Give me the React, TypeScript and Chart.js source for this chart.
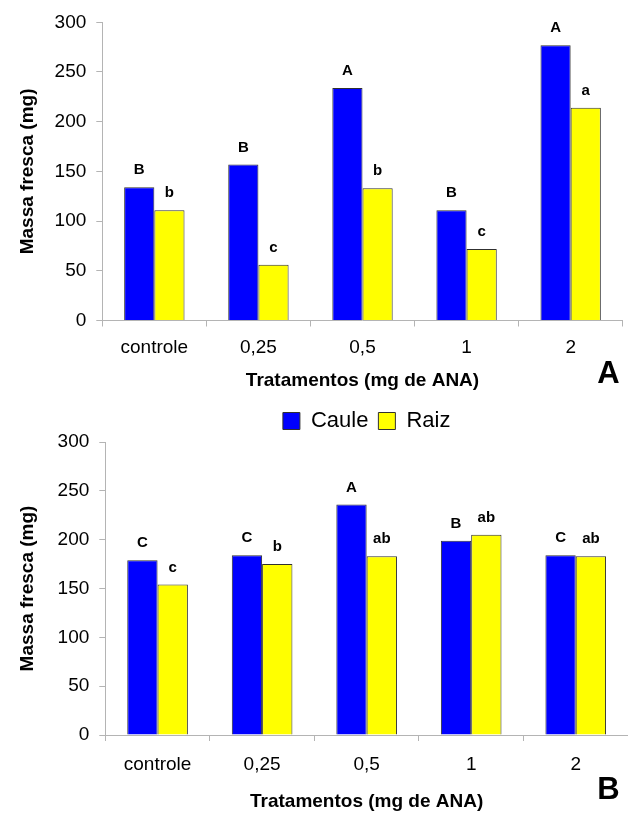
import { useEffect, useRef } from "react";
import { Chart, registerables } from "chart.js";

Chart.register(...registerables);

const FONT = "'Liberation Sans', Arial, Helvetica, sans-serif";
const AXIS = "#b4b4b4";

const categories = ["controle", "0,25", "0,5", "1", "2"];
const yTicks = [0, 50, 100, 150, 200, 250, 300];
const seriesNames = ["Caule", "Raiz"];
const xTitle = "Tratamentos (mg de ANA)";
const yTitle = "Massa fresca (mg)";

const cauleA = [134, 157, 234, 111, 277];
const raizA = [111, 56, 133, 72, 214];
const cauleLettersA = ["B", "B", "A", "B", "A"];
const raizLettersA = ["b", "c", "b", "c", "a"];

const cauleB = [179, 184, 236, 199, 184];
const raizB = [154, 175, 183, 205, 183];
const cauleLettersB = ["C", "C", "A", "B", "C"];
const raizLettersB = ["c", "b", "ab", "ab", "ab"];

const panelNames = ["A", "B"];

const letterPlugin = {
  id: "barLetters",
  afterDatasetsDraw(chart: any, _args: any, opts: any) {
    const { ctx } = chart;
    ctx.save();
    ctx.fillStyle = "#000";
    ctx.textAlign = "center";
    ctx.textBaseline = "middle";
    ctx.font = `bold 15px ${FONT}`;
    (opts.letters || []).forEach((arr: string[], di: number) => {
      const meta = chart.getDatasetMeta(di);
      meta.data.forEach((bar: any, i: number) => {
        ctx.fillText(arr[i], bar.x, bar.y - 17);
      });
    });
    if (opts.panel) {
      ctx.font = `bold 31px ${FONT}`;
      ctx.fillText(opts.panel, chart.width - 19.5, opts.panelY);
    }
    ctx.restore();
  },
};

type PanelProps = {
  top: number;
  height: number;
  caule: number[];
  raiz: number[];
  cauleLetters: string[];
  raizLetters: string[];
  panel: string;
  panelY: number;
  showLegend: boolean;
  padding: { top: number; right: number; bottom: number; left: number };
  yAxisWidth: number;
  xAxisHeight: number;
  xTickPad: number;
  xTitlePadBottom: number;
};

function Panel(p: PanelProps) {
  const ref = useRef<HTMLCanvasElement | null>(null);
  useEffect(() => {
    if (!ref.current) return;
    const chart = new Chart(ref.current, {
      type: "bar",
      data: {
        labels: categories,
        datasets: [
          {
            label: seriesNames[0],
            data: p.caule,
            backgroundColor: "#0000ff",
            borderColor: "#303030",
            borderWidth: 1,
            barPercentage: 1,
            categoryPercentage: 0.58,
          },
          {
            label: seriesNames[1],
            data: p.raiz,
            backgroundColor: "#ffff00",
            borderColor: "#303030",
            borderWidth: 1,
            barPercentage: 1,
            categoryPercentage: 0.58,
          },
        ],
      },
      options: {
        responsive: false,
        animation: false,
        devicePixelRatio: 1,
        layout: { padding: p.padding },
        plugins: {
          legend: {
            display: p.showLegend,
            position: "top",
            fullSize: false,
            labels: {
              boxWidth: 17,
              boxHeight: 17,
              padding: 10,
              color: "#000",
              font: { size: 22, family: FONT },
            },
          },
          tooltip: { enabled: false },
          barLetters: {
            letters: [p.cauleLetters, p.raizLetters],
            panel: p.panel,
            panelY: p.panelY,
          },
        } as any,
        scales: {
          x: {
            grid: {
              display: true,
              drawOnChartArea: false,
              drawTicks: true,
              tickLength: 6,
              color: AXIS,
              offset: true,
            },
            border: { display: true, color: AXIS, width: 1 },
            ticks: {
              color: "#000",
              font: { size: 19, family: FONT },
              padding: p.xTickPad,
              maxRotation: 0,
              autoSkip: false,
            },
            title: {
              display: true,
              text: xTitle,
              color: "#000",
              font: { size: 19, weight: "bold", family: FONT },
              padding: { top: 0, bottom: p.xTitlePadBottom },
            },
            afterFit: (s: any) => {
              s.height = p.xAxisHeight;
            },
          },
          y: {
            min: 0,
            max: 300,
            grid: {
              display: true,
              drawOnChartArea: false,
              drawTicks: true,
              tickLength: 6,
              color: AXIS,
            },
            border: { display: true, color: AXIS, width: 1 },
            ticks: {
              color: "#000",
              font: { size: 19, family: FONT },
              padding: 10,
            },
            afterBuildTicks: (s: any) => {
              s.ticks = yTicks.map((v) => ({ value: v }));
            },
            title: {
              display: true,
              text: yTitle,
              color: "#000",
              font: { size: 19, weight: "bold", family: FONT },
              padding: { top: 16, bottom: 0 },
            },
            afterFit: (s: any) => {
              s.width = p.yAxisWidth;
            },
          },
        } as any,
      } as any,
      plugins: [letterPlugin as any],
    });
    return () => chart.destroy();
  }, []);
  return (
    <div style={{ position: "absolute", left: 0, top: p.top, width: 628, height: p.height }}>
      <canvas ref={ref} width={628} height={p.height} style={{ display: "block" }} />
    </div>
  );
}

export default function App() {
  return (
    <div style={{ position: "absolute", left: 0, top: 0, width: 628, height: 813, background: "#fff" }}>
      <Panel
        top={0}
        height={400}
        caule={cauleA}
        raiz={raizA}
        cauleLetters={cauleLettersA}
        raizLetters={raizLettersA}
        panel={panelNames[0]}
        panelY={374}
        showLegend={false}
        padding={{ top: 22.3, right: 5.3, bottom: 0, left: 0 }}
        yAxisWidth={102.3}
        xAxisHeight={79.5}
        xTickPad={10}
        xTitlePadBottom={7.6}
      />
      <Panel
        top={400}
        height={413}
        caule={cauleB}
        raiz={raizB}
        cauleLetters={cauleLettersB}
        raizLetters={raizLettersB}
        panel={panelNames[1]}
        panelY={390}
        showLegend={true}
        padding={{ top: 0, right: 0, bottom: 0, left: 0 }}
        yAxisWidth={105.3}
        xAxisHeight={78}
        xTickPad={12.6}
        xTitlePadBottom={0}
      />
    </div>
  );
}
